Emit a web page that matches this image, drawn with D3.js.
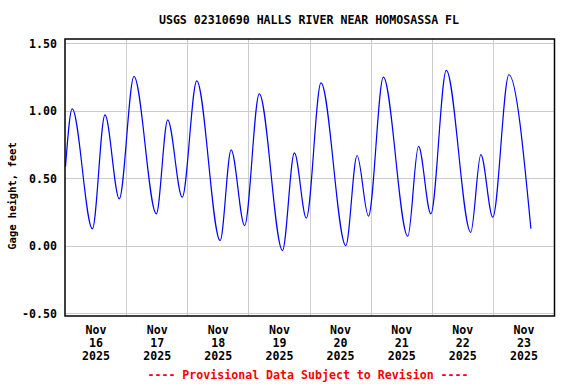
<!DOCTYPE html>
<html>
<head>
<meta charset="utf-8">
<script src="https://cdn.jsdelivr.net/npm/d3@7"></script>
<style>
  body { margin: 0; background: #fff; }
  text { font-family: "DejaVu Sans Mono", monospace; font-weight: bold; }
</style>
</head>
<body>
<svg id="chart" width="576" height="384"></svg>
<script>
// gage height readings (turning points of the tide cycle)
const times = [
  "2025-11-16 00:00", "2025-11-16 02:38", "2025-11-16 10:34", "2025-11-16 15:30", "2025-11-16 21:07",
  "2025-11-17 02:53", "2025-11-17 11:40", "2025-11-17 16:08", "2025-11-17 21:50",
  "2025-11-18 03:32", "2025-11-18 12:43", "2025-11-18 17:02", "2025-11-18 22:19",
  "2025-11-19 04:05", "2025-11-19 13:12", "2025-11-19 17:53", "2025-11-19 22:34",
  "2025-11-20 04:19", "2025-11-20 14:04", "2025-11-20 18:29", "2025-11-20 22:57",
  "2025-11-21 04:48", "2025-11-21 14:24", "2025-11-21 18:36", "2025-11-21 23:27",
  "2025-11-22 05:31", "2025-11-22 15:07", "2025-11-22 19:05", "2025-11-22 23:46",
  "2025-11-23 06:06", "2025-11-23 14:44"
];
const gageHeight = [
  0.587, 1.015, 0.126, 0.970, 0.348,
  1.254, 0.237, 0.933, 0.360,
  1.222, 0.039, 0.711, 0.150,
  1.126, -0.035, 0.689, 0.205,
  1.207, 0.002, 0.669, 0.220,
  1.249, 0.071, 0.736, 0.237,
  1.300, 0.100, 0.676, 0.212,
  1.267, 0.126
];
const yTicks = [-0.5, 0, 0.5, 1.0, 1.5];
const yTickLabels = ["-0.50", "0.00", "0.50", "1.00", "1.50"];
const dayLabels = [
  ["Nov", "16", "2025"], ["Nov", "17", "2025"], ["Nov", "18", "2025"], ["Nov", "19", "2025"],
  ["Nov", "20", "2025"], ["Nov", "21", "2025"], ["Nov", "22", "2025"], ["Nov", "23", "2025"]
];
const dayStarts = ["2025-11-16", "2025-11-17", "2025-11-18", "2025-11-19", "2025-11-20",
  "2025-11-21", "2025-11-22", "2025-11-23", "2025-11-24"];

const parseTime = d3.utcParse("%Y-%m-%d %H:%M");
const parseDay = d3.utcParse("%Y-%m-%d");
const data = times.map((t, i) => ({ t: parseTime(t), v: gageHeight[i] }));
const days = dayStarts.map(parseDay);

const svg = d3.select("#chart");
const box = { left: 65, top: 39, right: 554.5, bottom: 316 };
const fs = "11.6px";

const x = d3.scaleUtc()
  .domain([days[0], days[days.length - 1]])
  .range([box.left + 0.5, box.right]);

const y = d3.scaleLinear()
  .domain([-0.5, 1.5])
  .range([313.3, 43.3]);

// horizontal grid + labels
const yAxis = svg.append("g")
  .attr("transform", `translate(${box.left},0)`)
  .call(d3.axisLeft(y)
    .tickValues(yTicks)
    .tickSize(-(box.right - box.left))
    .tickPadding(8)
    .tickFormat((d, i) => yTickLabels[i]));
yAxis.select(".domain").remove();
yAxis.selectAll("line").attr("stroke", "#cccccc").attr("shape-rendering", "crispEdges");
yAxis.selectAll("text")
  .attr("fill", "#000")
  .style("font-size", fs);

// vertical grid at midnight
svg.append("g")
  .selectAll("line")
  .data(days.slice(1, -1))
  .join("line")
  .attr("x1", d => x(d)).attr("x2", d => x(d))
  .attr("y1", box.top).attr("y2", box.bottom)
  .attr("stroke", "#cccccc")
  .attr("shape-rendering", "crispEdges");

// day labels centred at noon
const noon = d => d3.utcHour.offset(d, 12);
const lbl = svg.append("g")
  .selectAll("text")
  .data(days.slice(0, -1))
  .join("text")
  .attr("x", d => x(noon(d)))
  .attr("y", 334)
  .attr("text-anchor", "middle")
  .style("font-size", fs);
lbl.each(function (d, i) {
  const t = d3.select(this);
  dayLabels[i].forEach((s, k) => {
    t.append("tspan")
      .attr("x", x(noon(d)))
      .attr("dy", k === 0 ? 0 : 13)
      .text(s);
  });
});

// series
const line = d3.line()
  .x(d => x(d.t))
  .y(d => y(d.v))
  .curve(d3.curveMonotoneX);

svg.append("path")
  .datum(data)
  .attr("d", line)
  .attr("fill", "none")
  .attr("stroke", "#0000ff")
  .attr("stroke-width", 1.2);

// frame
svg.append("rect")
  .attr("x", box.left)
  .attr("y", box.top)
  .attr("width", box.right - box.left)
  .attr("height", box.bottom - box.top)
  .attr("fill", "none")
  .attr("stroke", "#000")
  .attr("stroke-width", 1.5);

// title
svg.append("text")
  .attr("x", 309)
  .attr("y", 24)
  .attr("text-anchor", "middle")
  .style("font-size", fs)
  .text("USGS 02310690 HALLS RIVER NEAR HOMOSASSA FL");

// y label
svg.append("text")
  .attr("transform", "translate(16,196) rotate(-90)")
  .attr("text-anchor", "middle")
  .style("font-size", "10.5px")
  .text("Gage height, feet");

// provisional note
svg.append("text")
  .attr("x", 308)
  .attr("y", 379)
  .attr("text-anchor", "middle")
  .attr("fill", "#ff0000")
  .style("font-size", fs)
  .text("---- Provisional Data Subject to Revision ----");
</script>
</body>
</html>
